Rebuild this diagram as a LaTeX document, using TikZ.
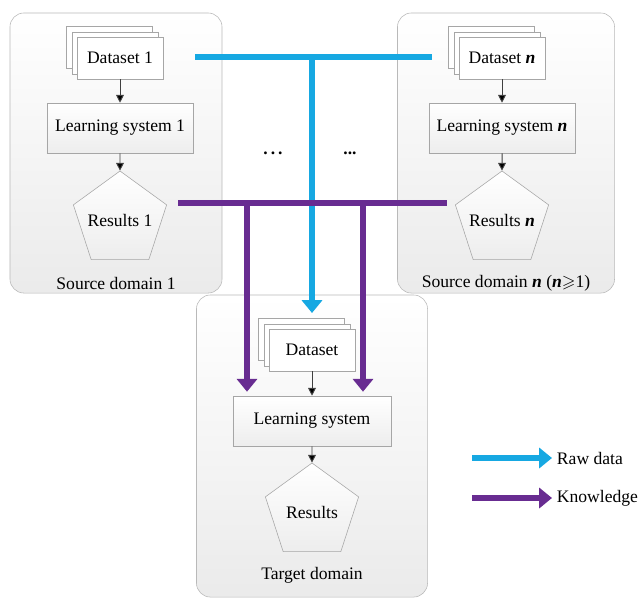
\documentclass[tikz,border=0pt]{standalone}
\usepackage{fontspec}
\usepackage{amssymb}
\setmainfont{Liberation Serif}
\usetikzlibrary{arrows.meta, positioning, shapes.geometric, shadows}

\definecolor{rawblue}{RGB}{22,168,226}
\definecolor{knowpurple}{RGB}{104,44,145}
\newcommand{\nvar}{\textbf{\textit{n}}}

\begin{document}
\begin{tikzpicture}[
    x=0.025cm,
    y=-0.025cm,
    font=\fontsize{12.5}{15}\selectfont,
    domainbox/.style={draw=gray!55, rounded corners=0.35cm,
        top color=white, bottom color=gray!16},
    page/.style={draw=gray!70, fill=white,
        minimum width=2.15cm, minimum height=1.05cm,
        double copy shadow={shadow xshift=-0.13cm, shadow yshift=0.13cm,
            draw=gray!70, fill=white}},
    learnbox/.style={draw=gray!70, top color=white, bottom color=gray!14,
        minimum width=3.65cm, minimum height=1.25cm},
    result/.style={regular polygon, regular polygon sides=5, draw=gray!70,
        top color=white, bottom color=gray!14, minimum size=2.45cm, inner sep=-10pt},
    flow/.style={-{Triangle[length=5.5pt, width=5.5pt]}, draw=black!75, line width=0.7pt},
    raw/.style={draw=rawblue, line width=4.5pt},
    know/.style={draw=knowpurple, line width=4.5pt},
    tip/.style={-{Triangle[length=0.32cm, width=0.5cm]}},
]
    \useasboundingbox (0,0) rectangle (643,608);

    % domains
    \node[domainbox, minimum width=5.3cm,   minimum height=7cm]    (dom1) at (116,153) {};
    \node[domainbox, minimum width=5.425cm, minimum height=7cm]    (domn) at (506,153) {};
    \node[domainbox, minimum width=5.775cm, minimum height=7.55cm] (domt) at (312,446) {};

    \node (lab1) at (116,283) {Source domain 1};
    \node (labn) at (506,283) {Source domain \nvar{} (\nvar$\geqslant$1)};
    \node (labt) at (312,575) {Target domain};

    % source domain 1
    \node[page]     (data1)  at (120,58)  {Dataset 1};
    \node[learnbox] (learn1) at (120,128) {Learning system 1};
    \node[result]   (res1)   at (120,220) {Results 1};

    % source domain n
    \node[page]     (datan)  at (502,58)  {Dataset \nvar};
    \node[learnbox] (learnn) at (502,128) {Learning system \nvar};
    \node[result]   (resn)   at (502,220) {Results \nvar};

    % target domain
    \node[page]                        (datat)  at (312,350) {Dataset};
    \node[learnbox, minimum width=3.95cm] (learnt) at (312,421) {Learning system};
    \node[result]                      (rest)   at (312,512) {Results};

    \path[flow]
        (data1)  edge (learn1)
        (learn1) edge (res1)
        (datan)  edge (learnn)
        (learnn) edge (resn)
        (datat)  edge (learnt)
        (learnt) edge (rest)
    ;

    \node (dots1) at (273,153) {\textbf{.\,.\,.}};
    \node (dots2) at (350,153) {\textbf{...}};

    % raw data
    \coordinate (rawL) at (195,57);
    \coordinate (rawR) at (432,57);
    \coordinate (rawJ) at (312,57);
    \coordinate (rawT) at (312,313);
    \draw[raw] (rawL) -- (rawR);
    \draw[raw, tip] (rawJ) -- (rawT);

    % knowledge
    \coordinate (knowL) at (178,203);
    \coordinate (knowR) at (447,203);
    \coordinate (know1) at (247,203);
    \coordinate (know2) at (363,203);
    \draw[know] (knowL) -- (knowR);
    \draw[know, tip, shorten >=0.1cm] (know1) -- (know1 |- learnt.north);
    \draw[know, tip, shorten >=0.1cm] (know2) -- (know2 |- learnt.north);

    % legend
    \node[anchor=west] (rawtxt)  at (552,458) {Raw data};
    \node[anchor=west] (knowtxt) at (552,498) {Knowledge};
    \coordinate (rawleg)  at (472,458);
    \coordinate (knowleg) at (472,498);
    \draw[raw, tip]  (rawleg)  -- (rawtxt.west);
    \draw[know, tip] (knowleg) -- (knowtxt.west);
\end{tikzpicture}
\end{document}
